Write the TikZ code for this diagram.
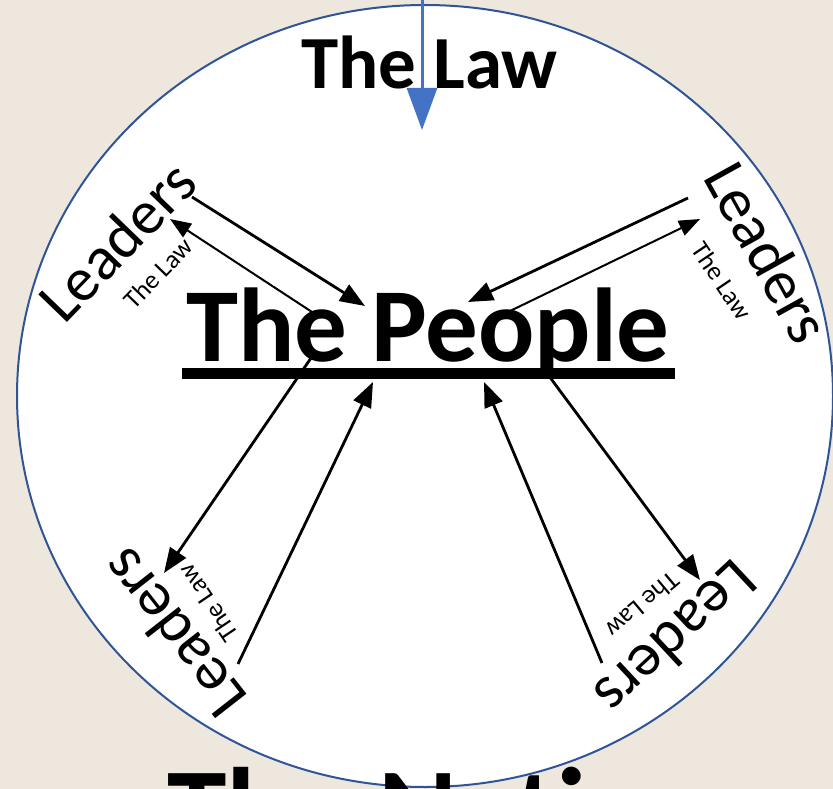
\documentclass[tikz,border=0pt]{standalone}
\usepackage{fontspec}
\setmainfont{Carlito}
\usetikzlibrary{arrows.meta}
\definecolor{parchment}{RGB}{237,231,221}
\definecolor{ringblue}{RGB}{47,85,151}
\definecolor{lawblue}{RGB}{68,114,196}
\tikzset{
  leader/.style={inner sep=0pt, font=\fontsize{62}{62}\selectfont},
  lawtag/.style={inner sep=0pt, font=\fontsize{26}{26}\selectfont},
  flow/.style={line width=2.8pt, -{Triangle[length=25pt,width=19pt]}},
  backflow/.style={line width=2pt, -{Triangle[length=21pt,width=16pt]}},
}

\begin{document}
\begin{tikzpicture}[x=1pt,y=-1pt]
  \clip (0,0) rectangle (833,789);
  \fill[parchment] (0,0) rectangle (833,789);
  \filldraw[fill=white, draw=ringblue, line width=2pt] (425,396) ellipse [x radius=408, y radius=391];

  % titles
  \node[inner sep=0pt, anchor=base west, font=\bfseries\fontsize{75}{75}\selectfont] (law) at (301,89) {The Law};
  \node[inner sep=0pt, anchor=base, font=\bfseries\fontsize{105}{105}\selectfont] (people) at (428,361) {The People};
  \fill (182,368) rectangle (675,379);
  \node[inner sep=0pt, anchor=base west, font=\bfseries\fontsize{120}{120}\selectfont] (nation) at (167,851) {The Nation};

  % leaders round the ring
  \node[leader, rotate=46]   (leadtl) at (117,241) {Leaders};
  \node[leader, rotate=-61]  (leadtr) at (768,252) {Leaders};
  \node[leader, rotate=128]  (leadbl) at (173,634) {Leaders};
  \node[leader, rotate=-137] (leadbr) at (677,639) {Leaders};
  \node[lawtag, rotate=46]   (tagtl) at (158,273) {The Law};
  \node[lawtag, rotate=-56]  (tagtr) at (722,281) {The Law};
  \node[lawtag, rotate=124]  (tagbl) at (208,603) {The Law};
  \node[lawtag, rotate=-140] (tagbr) at (643,605) {The Law};

  % law comes down from above
  \coordinate (sky) at (422,-2);
  \coordinate (lawtip) at (422,130);
  \draw[lawblue, line width=3pt, -{Triangle[length=42pt,width=30pt]}] (sky) -- (lawtip);

  % arrow ends
  \coordinate (tlout) at (192,197);  \coordinate (tlin) at (170,219);
  \coordinate (trout) at (688,198);  \coordinate (trin) at (700,219);
  \coordinate (blout) at (238,664);  \coordinate (blin) at (164,573);
  \coordinate (brout) at (602,663);  \coordinate (brin) at (700,580);
  \coordinate (ptl) at (365,306);    \coordinate (ptlout) at (312,312);
  \coordinate (ptr) at (468,302);    \coordinate (ptrout) at (508,312);
  \coordinate (pbl) at (373,382);    \coordinate (pblout) at (311,358);
  \coordinate (pbr) at (484,382);    \coordinate (pbrout) at (549,376);

  \foreach \a/\b in {tlout/ptl, trout/ptr, blout/pbl, brout/pbr, pblout/blin, pbrout/brin}
    \draw[flow] (\a) -- (\b);
  \foreach \a/\b in {ptlout/tlin, ptrout/trin}
    \draw[backflow] (\a) -- (\b);
\end{tikzpicture}
\end{document}
